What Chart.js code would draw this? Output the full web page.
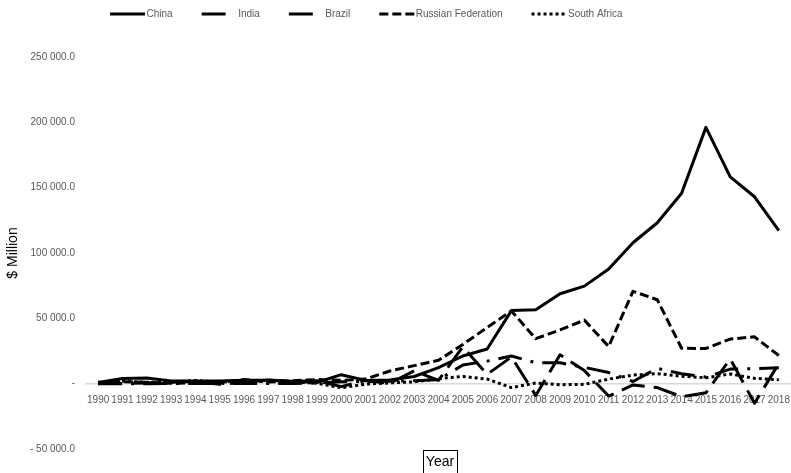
<!DOCTYPE html>
<html>
<head>
<meta charset="utf-8">
<script src="https://cdn.jsdelivr.net/npm/chart.js@4/dist/chart.umd.min.js"></script>
<style>
  html, body { margin: 0; padding: 0; background: #ffffff; }
  canvas { display: block; }
</style>
</head>
<body>
<canvas id="fdi" width="791" height="473"></canvas>
<script>
// FDI outflows, $ million
const years = ['1990','1991','1992','1993','1994','1995','1996','1997','1998','1999',
               '2000','2001','2002','2003','2004','2005','2006','2007','2008','2009',
               '2010','2011','2012','2013','2014','2015','2016','2017','2018'];

const china = [913, 4000, 4400, 2000, 2000, 2114, 2563, 2634, 1775, 916,
               6885, 2518, 2855, 5498, 12261, 21160, 26510, 55910, 56530, 68811,
               74654, 87804, 107844, 123130, 145667, 196149, 158290, 143037, 117120];

const india = [10, 0, 20, 80, 120, 240, 110, 50, 80, 514,
               1397, 1678, 1876, 2175, 2985, 14285, 17234, 21147, 16031, 15947,
               12456, 8486, 1679, 11783, 7572, 5072, 11141, 11447, 12104];

const brazil = [1014, 137, 491, 1037, 1559, -469, 1116, 2854, 1690, 2282,
                -2258, 2482, 249, 9807, 2517, 28202, 7067, 20457, -9000, 22060,
                10000, -9500, -1000, -3000, -10000, -7000, 19000, -15000, 15500];

const russia = [0, 1566, 1023, 281, 606, 923, 3184, 1270, 2208, 3177,
                2533, 3533, 9727, 13782, 17880, 29993, 43000, 55663, 34450, 41116,
                48635, 28423, 70685, 64203, 27090, 26951, 34153, 35820, 21500];

const southAfrica = [200, 2000, 1000, 1200, 2500, 1050, 2300, 1800, 1600, 300,
                     -3180, -400, 600, 1400, 3800, 5500, 3500, -3000, 500, -800,
                     -500, 3500, 6600, 7700, 5700, 4500, 7400, 4100, 3000];

const yTicks = { min: -50000, max: 250000, step: 50000 };

const FONT = '"Liberation Sans", Arial, sans-serif';
const GREY_TEXT = '#595959';

// accounting style: "250 000.0", "- 50 000.0", "-" for zero
function accounting(v) {
  if (v === 0) return '-';
  const body = Math.abs(v).toFixed(1).replace(/\B(?=(\d{3})+(?!\d))/g, ' ');
  return (v < 0 ? '- ' : '') + body;
}

function series(label, data, dash) {
  return {
    label, data,
    borderColor: '#000000',
    backgroundColor: '#000000',
    borderWidth: 3,
    borderDash: dash,
    borderJoinStyle: 'round',
    borderCapStyle: 'butt',
    pointRadius: 0,
    pointHoverRadius: 0,
    tension: 0,
    fill: false
  };
}

// legend row along the top: short line sample followed by the series name
const seriesKey = {
  id: 'seriesKey',
  afterDraw(chart) {
    const ctx = chart.ctx;
    ctx.save();
    ctx.font = '10px ' + FONT;
    ctx.textBaseline = 'middle';
    ctx.textAlign = 'left';
    let x = 110;
    const y = 14;
    chart.data.datasets.forEach(ds => {
      const dash = ds.borderDash || [];
      ctx.strokeStyle = ds.borderColor;
      ctx.lineWidth = ds.borderWidth;
      ctx.lineCap = 'butt';
      // a long-dash sample only has room for its first dash
      ctx.setLineDash(dash.length && dash[0] >= 20 ? [dash[0], 40] : dash);
      ctx.beginPath();
      ctx.moveTo(x, y);
      ctx.lineTo(x + 35, y);
      ctx.stroke();
      ctx.setLineDash([]);
      ctx.fillStyle = GREY_TEXT;
      ctx.fillText(ds.label, x + 36.5, y);
      x += 36.5 + ctx.measureText(ds.label).width + 29;
    });
    ctx.restore();
  }
};

// boxed category-axis title under the plot
const yearBox = {
  id: 'yearBox',
  afterDraw(chart) {
    const { ctx, chartArea } = chart;
    ctx.save();
    ctx.font = '14px ' + FONT;
    const text = 'Year';
    const w = ctx.measureText(text).width + 6;
    const h = 23;
    const cx = (chartArea.left + chartArea.right) / 2 + 1.5;
    const top = chartArea.bottom + 1;
    ctx.fillStyle = '#ffffff';
    ctx.fillRect(cx - w / 2, top, w, h);
    ctx.strokeStyle = '#000000';
    ctx.lineWidth = 1;
    ctx.strokeRect(Math.round(cx - w / 2) + 0.5, Math.round(top) + 0.5, Math.round(w), h);
    ctx.fillStyle = '#000000';
    ctx.textAlign = 'center';
    ctx.textBaseline = 'middle';
    ctx.fillText(text, cx, top + h / 2 + 1);
    ctx.restore();
  }
};

new Chart(document.getElementById('fdi'), {
  type: 'line',
  data: {
    labels: years,
    datasets: [
      series('China', china, []),
      series('India', india, [24, 9, 3, 9]),
      series('Brazil', brazil, [24, 9]),
      series('Russian Federation', russia, [9, 4]),
      series('South Africa', southAfrica, [3, 3])
    ]
  },
  options: {
    responsive: false,
    animation: false,
    devicePixelRatio: 1,
    layout: { padding: { top: 57, right: 0, bottom: 24, left: 0 } },
    plugins: {
      legend: { display: false },
      tooltip: { enabled: false },
      title: { display: false }
    },
    scales: {
      x: {
        type: 'category',
        position: { y: 0 },
        offset: true,
        grid: { display: false, drawTicks: false },
        border: { display: true, color: '#d9d9d9', width: 1.5 },
        ticks: {
          autoSkip: false,
          maxRotation: 0,
          minRotation: 0,
          padding: 11,
          color: GREY_TEXT,
          font: { family: FONT, size: 10 }
        },
        afterFit(scale) {
          // the axis sits on the zero line, so it reserves no room of its own
          scale.height = 0;
          scale.paddingLeft = 0;
          scale.paddingRight = 0;
        }
      },
      y: {
        min: yTicks.min,
        max: yTicks.max,
        grid: { display: false, drawTicks: false },
        border: { display: false },
        ticks: {
          stepSize: yTicks.step,
          padding: 11,
          color: GREY_TEXT,
          font: { family: FONT, size: 10 },
          callback: v => accounting(v)
        },
        title: {
          display: true,
          text: '$ Million',
          color: '#000000',
          font: { family: FONT, size: 14 },
          padding: { top: 5, bottom: 0 }
        },
        afterFit(scale) { scale.width = 86; }
      }
    }
  },
  plugins: [seriesKey, yearBox]
});
</script>
</body>
</html>
